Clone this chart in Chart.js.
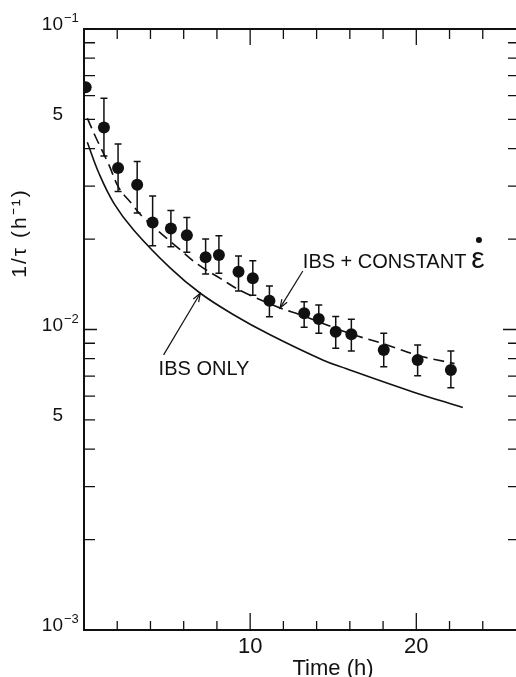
<!DOCTYPE html>
<html lang="en">
<head>
    <meta charset="UTF-8">
    <title>1/tau vs time</title>
    <script src="https://cdn.jsdelivr.net/npm/chart.js"></script>
    <style>
        body {
            margin: 0;
            background: #fff;
        }
        #chart {
            display: block;
        }
    </style>
</head>
<body>
    <canvas id="chart" width="516" height="677"></canvas>
    <script>
        // measured points (time in h, 1/tau in 1/h)
        const timeH = [0.1, 1.2, 2.05, 3.2, 4.13, 5.23, 6.19, 7.32, 8.12, 9.3, 10.16, 11.16, 13.25, 14.13, 15.15, 16.09, 18.04, 20.08, 22.08];
        const rate = [0.064, 0.047, 0.0345, 0.0303, 0.0227, 0.0217, 0.0206, 0.0174, 0.0177, 0.01557, 0.01481, 0.01247, 0.01132, 0.01084, 0.00983, 0.00964, 0.00855, 0.00791, 0.00733];
        const errHigh = [null, 0.0588, 0.0414, 0.0362, 0.0278, 0.0249, 0.0236, 0.0200, 0.0205, 0.01756, 0.01694, 0.01395, 0.01237, 0.01206, 0.01104, 0.01081, 0.00971, 0.00888, 0.00848];
        const errLow = [null, 0.0378, 0.0288, 0.0244, 0.0190, 0.01886, 0.01807, 0.0153, 0.01538, 0.01343, 0.0130, 0.01103, 0.01017, 0.00971, 0.00866, 0.00848, 0.00752, 0.00702, 0.0064];

        // IBS only (solid)
        const ibsT = [0.2, 0.9, 1.8, 3.0, 5.2, 7.0, 9.0, 11.2, 14.4, 15.8, 19.8, 22.8];
        const ibsV = [0.0420, 0.0331, 0.0263, 0.0214, 0.0160, 0.0132, 0.0112, 0.0096, 0.0079, 0.0074, 0.0062, 0.0055];

        // IBS + constant eps-dot (dashed)
        const ibsEpsT = [0.2, 0.7, 1.5, 2.1, 2.8, 3.6, 5.8, 6.9, 8.2, 9.5, 11.8, 13.0, 16.0, 18.2, 20.1, 22.3];
        const ibsEpsV = [0.0505, 0.0437, 0.0353, 0.0296, 0.0265, 0.0235, 0.0184, 0.0164, 0.0148, 0.0134, 0.0118, 0.0112, 0.0097, 0.0089, 0.0082, 0.0077];

        // axis ticks
        const xMinorTicks = [2, 4, 6, 8, 12, 14, 16, 18, 22, 24];
        const xMajorTicks = [10, 20];
        const yMajorTicks = [1e-3, 1e-2, 1e-1];
        const yMinorTicks = [2e-3, 3e-3, 4e-3, 5e-3, 6e-3, 7e-3, 8e-3, 9e-3, 2e-2, 3e-2, 4e-2, 5e-2, 6e-2, 7e-2, 8e-2, 9e-2];
        const yLabelValues = [1e-1, 5e-2, 1e-2, 5e-3, 1e-3];
        const yLabelBase = ['10', '5', '10', '5', '10'];
        const yLabelSup = ['\u22121', '', '\u22122', '', '\u22123'];

        const FONT = '"Liberation Sans", Arial, sans-serif';

        const toXY = (xs, ys) => xs.map((x, i) => ({ x: x, y: ys[i] }));

        function arrow(ctx, x1, y1, x2, y2) {
            ctx.beginPath();
            ctx.moveTo(x1, y1);
            ctx.lineTo(x2, y2);
            ctx.stroke();
            const a = Math.atan2(y2 - y1, x2 - x1);
            const len = 9;
            ctx.beginPath();
            ctx.moveTo(x2 - len * Math.cos(a - 0.35), y2 - len * Math.sin(a - 0.35));
            ctx.lineTo(x2, y2);
            ctx.lineTo(x2 - len * Math.cos(a + 0.35), y2 - len * Math.sin(a + 0.35));
            ctx.stroke();
        }

        const framePlugin = {
            id: 'frame',
            afterDatasetsDraw(chart) {
                const ctx = chart.ctx;
                const xs = chart.scales.x, ys = chart.scales.y;
                const a = chart.chartArea;
                ctx.save();
                ctx.strokeStyle = '#111';
                ctx.fillStyle = '#111';

                // error bars
                ctx.lineWidth = 1.5;
                timeH.forEach((t, i) => {
                    if (errHigh[i] == null) return;
                    const px = xs.getPixelForValue(t);
                    const top = ys.getPixelForValue(errHigh[i]);
                    const bot = ys.getPixelForValue(errLow[i]);
                    ctx.beginPath();
                    ctx.moveTo(px, top); ctx.lineTo(px, bot);
                    ctx.moveTo(px - 3.5, top); ctx.lineTo(px + 3.5, top);
                    ctx.moveTo(px - 3.5, bot); ctx.lineTo(px + 3.5, bot);
                    ctx.stroke();
                });

                // frame
                ctx.lineWidth = 2;
                ctx.beginPath();
                ctx.moveTo(a.right, a.top);
                ctx.lineTo(a.left, a.top);
                ctx.lineTo(a.left, a.bottom);
                ctx.lineTo(a.right, a.bottom);
                ctx.stroke();

                // inward ticks
                ctx.lineWidth = 1.3;
                ctx.beginPath();
                xMinorTicks.forEach(v => {
                    const p = xs.getPixelForValue(v);
                    ctx.moveTo(p, a.bottom); ctx.lineTo(p, a.bottom - 9);
                    ctx.moveTo(p, a.top); ctx.lineTo(p, a.top + 10);
                });
                xMajorTicks.forEach(v => {
                    const p = xs.getPixelForValue(v);
                    ctx.moveTo(p, a.bottom); ctx.lineTo(p, a.bottom - 17);
                    ctx.moveTo(p, a.top); ctx.lineTo(p, a.top + 16);
                });
                yMinorTicks.forEach(v => {
                    const p = ys.getPixelForValue(v);
                    ctx.moveTo(a.left, p); ctx.lineTo(a.left + 11, p);
                    ctx.moveTo(a.right, p); ctx.lineTo(a.right - 8, p);
                });
                yMajorTicks.forEach(v => {
                    const p = ys.getPixelForValue(v);
                    ctx.moveTo(a.left, p); ctx.lineTo(a.left + 13, p);
                    ctx.moveTo(a.right, p); ctx.lineTo(a.right - 13, p);
                });
                ctx.stroke();

                // y tick labels (baseline sits on the tick)
                ctx.textBaseline = 'alphabetic';
                yLabelValues.forEach((v, i) => {
                    const p = ys.getPixelForValue(v);
                    ctx.font = '19px ' + FONT;
                    ctx.textAlign = 'right';
                    ctx.fillText(yLabelBase[i], a.left - 21, p + 1);
                    if (yLabelSup[i]) {
                        ctx.font = '13px ' + FONT;
                        ctx.textAlign = 'left';
                        ctx.fillText(yLabelSup[i], a.left - 20, p - 7);
                    }
                });

                // x tick labels
                ctx.font = '22px ' + FONT;
                ctx.textAlign = 'center';
                xMajorTicks.forEach(v => {
                    ctx.fillText(String(v), xs.getPixelForValue(v), a.bottom + 23);
                });

                // axis titles
                ctx.fillText('Time (h)', 333, a.bottom + 45);
                ctx.save();
                ctx.translate(26, 233);
                ctx.rotate(-Math.PI / 2);
                ctx.font = '21px ' + FONT;
                ctx.letterSpacing = '2px';
                ctx.fillText('1/\u03c4 (h\u207b\u00b9)', 0, 0);
                ctx.restore();

                // annotations
                ctx.lineWidth = 1.2;
                ctx.font = '20px ' + FONT;
                ctx.textAlign = 'left';
                ctx.fillText('IBS ONLY', xs.getPixelForValue(4.49), ys.getPixelForValue(0.00706));
                arrow(ctx, xs.getPixelForValue(4.79), ys.getPixelForValue(0.00823),
                      xs.getPixelForValue(7.0), ys.getPixelForValue(0.0132));
                ctx.fillText('IBS + CONSTANT', xs.getPixelForValue(13.17), ys.getPixelForValue(0.01603));
                arrow(ctx, xs.getPixelForValue(13.17), ys.getPixelForValue(0.01566),
                      xs.getPixelForValue(11.8), ys.getPixelForValue(0.0118));
                ctx.font = '30px ' + FONT;
                ctx.fillText('\u03b5', xs.getPixelForValue(23.3), ys.getPixelForValue(0.01603));
                ctx.beginPath();
                ctx.arc(xs.getPixelForValue(23.77), ys.getPixelForValue(0.01986), 3, 0, Math.PI * 2);
                ctx.fill();

                ctx.restore();
            }
        };

        new Chart(document.getElementById('chart'), {
            type: 'scatter',
            data: {
                datasets: [
                    {
                        label: 'measured',
                        data: toXY(timeH, rate),
                        pointRadius: 6,
                        pointBackgroundColor: '#111',
                        pointBorderWidth: 0,
                        showLine: false
                    },
                    {
                        label: 'IBS ONLY',
                        data: toXY(ibsT, ibsV),
                        showLine: true,
                        borderColor: '#111',
                        borderWidth: 1.6,
                        pointRadius: 0,
                        tension: 0.4
                    },
                    {
                        label: 'IBS + CONSTANT',
                        data: toXY(ibsEpsT, ibsEpsV),
                        showLine: true,
                        borderColor: '#111',
                        borderWidth: 1.6,
                        borderDash: [11, 6],
                        pointRadius: 0,
                        tension: 0.4
                    }
                ]
            },
            options: {
                responsive: false,
                animation: false,
                layout: { autoPadding: false, padding: { left: 84, right: 0, top: 29, bottom: 47 } },
                plugins: {
                    legend: { display: false },
                    tooltip: { enabled: false }
                },
                scales: {
                    x: { type: 'linear', min: 0, max: 26, display: false },
                    y: { type: 'logarithmic', min: 1e-3, max: 1e-1, display: false }
                }
            },
            plugins: [framePlugin]
        });
    </script>
</body>
</html>
